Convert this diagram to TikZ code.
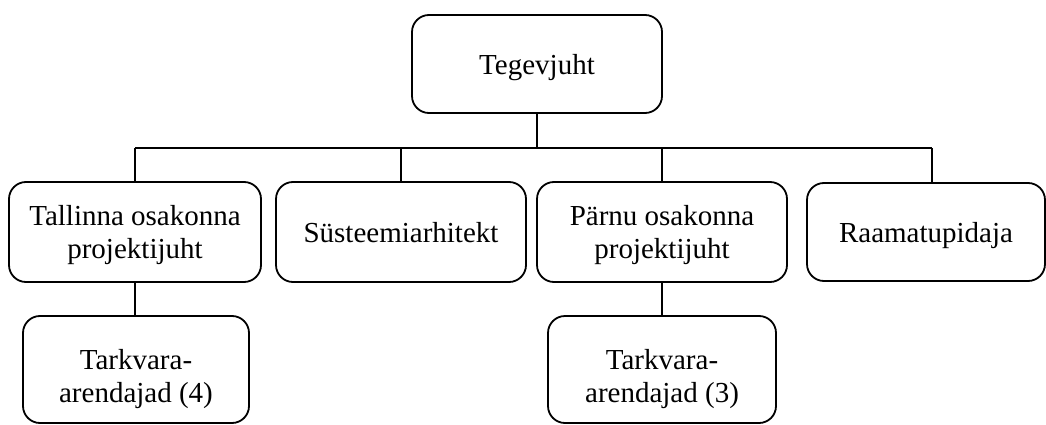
\documentclass[tikz,border=0pt]{standalone}
\usepackage{fontspec}
\setmainfont{Liberation Serif}
\begin{document}
\begin{tikzpicture}[x=1pt,y=-1pt,
  box/.style={draw,line width=1.8pt,rounded corners=17pt,inner sep=0pt,align=center,
    text depth=0pt,font=\fontsize{29}{33}\selectfont},
  lowtext/.style={text height=65pt},
  link/.style={line width=1.8pt}]
\useasboundingbox (0,0) rectangle (1046,425);
\node[box,minimum width=250pt,minimum height=98pt] (top) at (537,64) {Tegevjuht};
\node[box,minimum width=252pt,minimum height=100pt] (tal) at (135,232) {Tallinna osakonna\\projektijuht};
\node[box,minimum width=250pt,minimum height=100pt] (sys) at (401,232) {Süsteemiarhitekt};
\node[box,minimum width=250pt,minimum height=100pt] (par) at (662,232) {Pärnu osakonna\\projektijuht};
\node[box,minimum width=238pt,minimum height=98pt] (raam) at (926,232) {Raamatupidaja};
\node[box,lowtext,minimum width=226pt,minimum height=107pt] (tar1) at (136,369.5) {Tarkvara-\\arendajad (4)};
\node[box,lowtext,minimum width=228pt,minimum height=107pt] (tar2) at (662,369.5) {Tarkvara-\\arendajad (3)};
\coordinate (busL) at (135,148);
\coordinate (busR) at (932,148);
\draw[link] (busL) -- (busR);
\draw[link] (top.south) -- (top.south |- busL);
\draw[link] (busL) -- (tal.north);
\draw[link] (sys.north |- busL) -- (sys.north);
\draw[link] (par.north |- busL) -- (par.north);
\draw[link] (busR) -- (busR |- raam.north);
\draw[link] (tal.south) -- (tal.south |- tar1.north);
\draw[link] (par.south) -- (tar2.north);
\end{tikzpicture}
\end{document}
